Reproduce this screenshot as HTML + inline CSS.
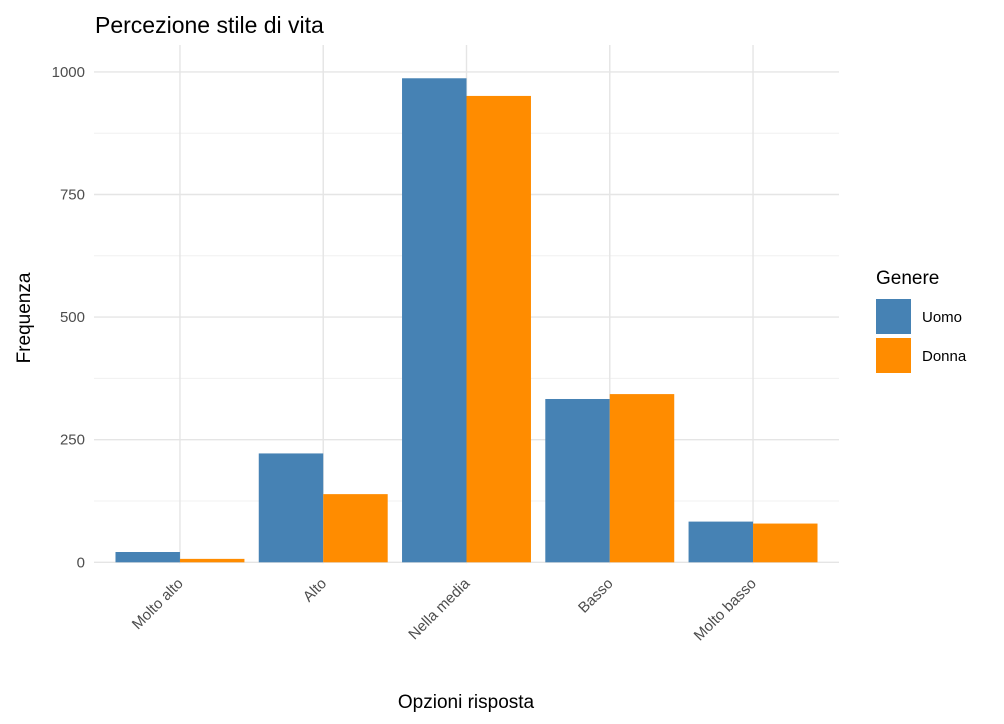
<!DOCTYPE html>
<html><head><meta charset="utf-8"><style>
body{margin:0;background:#fff;}
svg{display:block;font-family:"Liberation Sans",Arial,sans-serif;}
</style></head><body>
<svg id="chart" width="1004" height="724">
<rect width="1004" height="724" fill="#fff"/>
<text x="95" y="33" font-size="23" fill="#000">Percezione stile di vita</text>
<g id="grid"></g><g id="bars"></g><g id="axes"></g>
<text x="466" y="708" font-size="19" text-anchor="middle" fill="#000">Opzioni risposta</text>
<text transform="translate(30,318) rotate(-90)" font-size="19" text-anchor="middle" fill="#000">Frequenza</text>
<g>
<text x="876" y="284" font-size="19" fill="#000">Genere</text>
<rect x="876" y="299" width="35" height="35" fill="#4682B4"/>
<text x="922" y="322" font-size="15" fill="#000">Uomo</text>
<rect x="876" y="338" width="35" height="35" fill="#FF8C00"/>
<text x="922" y="361" font-size="15" fill="#000">Donna</text>
</g>
</svg>
<script>
const categories=["Molto alto","Alto","Nella media","Basso","Molto basso"];
const uomo=[21,222,987,333,83];
const donna=[7,139,951,343,79];
const yTicks=[0,250,500,750,1000];
const yMinor=[125,375,625,875];
const NS="http://www.w3.org/2000/svg";
const x0=94,x1=839,y0=562.3,yScale=0.4904;
const step=(x1-x0)/(categories.length+0.2);
function xc(i){return x0+step*(0.6+i);}
function y(v){return y0-v*yScale;}
function mk(tag,attrs,parent){const e=document.createElementNS(NS,tag);for(const k in attrs)e.setAttribute(k,attrs[k]);document.getElementById(parent).appendChild(e);return e;}
yMinor.forEach(v=>{const l=mk('line',{x1:x0,x2:x1,y1:y(v),y2:y(v),stroke:'#f0f0f0','stroke-width':1},'grid');

});
yTicks.forEach(v=>{const l=mk('line',{x1:x0,x2:x1,y1:y(v),y2:y(v),stroke:'#e5e5e5','stroke-width':1.4},'grid');


const t=mk('text',{x:85,y:y(v)+5,'font-size':15,'text-anchor':'end',fill:'#4d4d4d'},'axes');t.textContent=v;

});
const bw=step*0.45;
categories.forEach((c,i)=>{const cx=xc(i);
const g=mk('line',{x1:cx,x2:cx,y1:45,y2:y0+1,stroke:'#e5e5e5','stroke-width':1.4},'grid');


const b1=mk('rect',{x:cx-bw,y:y(uomo[i]),width:bw,height:uomo[i]*yScale,fill:'#4682B4'},'bars');


const b2=mk('rect',{x:cx,y:y(donna[i]),width:bw,height:donna[i]*yScale,fill:'#FF8C00'},'bars');


const t=mk('text',{transform:`translate(${cx+4},${y0+22}) rotate(-45)`,'font-size':15,'text-anchor':'end',fill:'#4d4d4d'},'axes');t.textContent=c;

});
</script>
</body></html>
